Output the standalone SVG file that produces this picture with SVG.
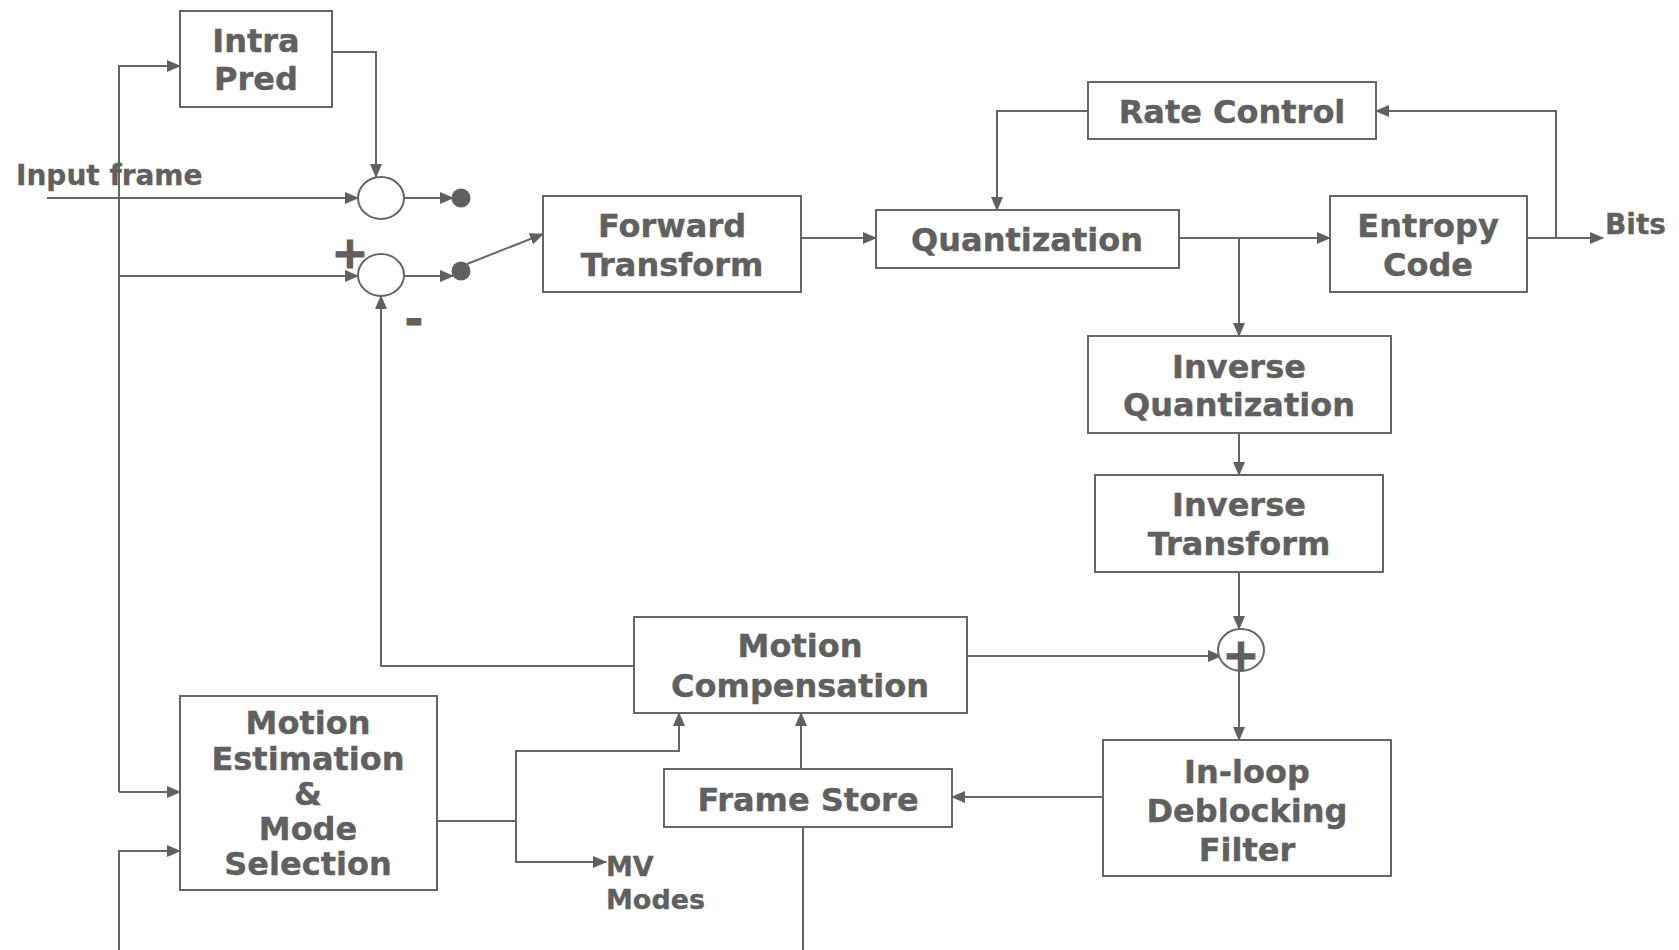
<svg xmlns="http://www.w3.org/2000/svg" width="1679" height="950" viewBox="0 0 1679 950">
<style>
.box{fill:#fff;stroke:#666;stroke-width:2}
.t{font-family:"DejaVu Sans","Verdana",sans-serif;font-weight:bold;font-size:32px;fill:#606060;stroke:#606060;stroke-width:0.4;text-anchor:middle}
.s{font-family:"DejaVu Sans","Verdana",sans-serif;font-weight:bold;font-size:28px;fill:#606060;stroke:#606060;stroke-width:0.3}
.sym{font-family:"DejaVu Sans","Verdana",sans-serif;font-weight:bold;font-size:44px;fill:#606060;stroke:#606060;stroke-width:1.2;text-anchor:middle}
.c{fill:none;stroke:#666;stroke-width:2}
.sum{fill:#fff;stroke:#666;stroke-width:2}
.dot{fill:#606060}
</style>
<defs>
<marker id="a" markerWidth="14" markerHeight="12" refX="13" refY="6" orient="auto" markerUnits="userSpaceOnUse">
<path d="M0,0 L14,6 L0,12 Z" fill="#606060"/>
</marker>
</defs>
<rect width="1679" height="950" fill="#fff"/>
<g id="connectors">
<path class="c" d="M119,792 V66 H180" marker-end="url(#a)"/>
<path class="c" d="M119,792 H180" marker-end="url(#a)"/>
<path class="c" d="M119,276 H358" marker-end="url(#a)"/>
<path class="c" d="M119,950 V851 H180" marker-end="url(#a)"/>
<path class="c" d="M47,198 H358" marker-end="url(#a)"/>
<path class="c" d="M332,52 H376 V177" marker-end="url(#a)"/>
<path class="c" d="M404,198 H453" marker-end="url(#a)"/>
<path class="c" d="M404,276 H453" marker-end="url(#a)"/>
<path class="c" d="M467,264 L543,234" marker-end="url(#a)"/>
<path class="c" d="M801,238 H876" marker-end="url(#a)"/>
<path class="c" d="M1088,111 H997 V210" marker-end="url(#a)"/>
<path class="c" d="M1179,238 H1330" marker-end="url(#a)"/>
<path class="c" d="M1239,238 V336" marker-end="url(#a)"/>
<path class="c" d="M1527,238 H1603" marker-end="url(#a)"/>
<path class="c" d="M1556,238 V111 H1376" marker-end="url(#a)"/>
<path class="c" d="M1239,433 V475" marker-end="url(#a)"/>
<path class="c" d="M1239,572 V629" marker-end="url(#a)"/>
<path class="c" d="M967,656 H1221" marker-end="url(#a)"/>
<path class="c" d="M1239,671 V740" marker-end="url(#a)"/>
<path class="c" d="M1103,797 H952" marker-end="url(#a)"/>
<path class="c" d="M801,769 V713" marker-end="url(#a)"/>
<path class="c" d="M803,827 V950"/>
<path class="c" d="M634,666 H381 V296" marker-end="url(#a)"/>
<path class="c" d="M437,821 H516 V751 H679 V713" marker-end="url(#a)"/>
<path class="c" d="M516,821 V862 H606" marker-end="url(#a)"/>
</g>
<g id="intra-pred">
<rect class="box" x="180" y="11" width="152" height="96"/>
<text class="t" x="256" y="52">Intra</text>
<text class="t" x="256" y="90">Pred</text>
</g>
<g id="input-label"><text class="s" x="16" y="185">Input frame</text></g>
<g id="sum1"><ellipse class="sum" cx="381" cy="198" rx="23" ry="21"/><circle class="dot" cx="461" cy="198" r="9.5"/></g>
<g id="sum2">
<ellipse class="sum" cx="381" cy="275" rx="23" ry="21"/><circle class="dot" cx="461" cy="271" r="9.5"/>
<text class="sym" x="350" y="268">+</text>
<text class="sym" x="414" y="335">-</text>
</g>
<g id="forward-transform">
<rect class="box" x="543" y="196" width="258" height="96"/>
<text class="t" x="672" y="237">Forward</text>
<text class="t" x="672" y="276">Transform</text>
</g>
<g id="quantization">
<rect class="box" x="876" y="210" width="303" height="58"/>
<text class="t" x="1027" y="251">Quantization</text>
</g>
<g id="rate-control">
<rect class="box" x="1088" y="82" width="288" height="57"/>
<text class="t" x="1232" y="123">Rate Control</text>
</g>
<g id="entropy-code">
<rect class="box" x="1330" y="196" width="197" height="96"/>
<text class="t" x="1428" y="237">Entropy</text>
<text class="t" x="1428" y="276">Code</text>
</g>
<g id="bits-label"><text class="s" x="1605" y="234">Bits</text></g>
<g id="inverse-quantization">
<rect class="box" x="1088" y="336" width="303" height="97"/>
<text class="t" x="1239" y="378">Inverse</text>
<text class="t" x="1239" y="416">Quantization</text>
</g>
<g id="inverse-transform">
<rect class="box" x="1095" y="475" width="288" height="97"/>
<text class="t" x="1239" y="516">Inverse</text>
<text class="t" x="1239" y="555">Transform</text>
</g>
<g id="sum3">
<ellipse class="sum" cx="1241" cy="650" rx="23" ry="21"/>
<text class="sym" x="1241" y="670">+</text>
</g>
<g id="motion-compensation">
<rect class="box" x="634" y="617" width="333" height="96"/>
<text class="t" x="800" y="657">Motion</text>
<text class="t" x="800" y="697">Compensation</text>
</g>
<g id="frame-store">
<rect class="box" x="664" y="769" width="288" height="58"/>
<text class="t" x="808" y="811">Frame Store</text>
</g>
<g id="deblocking-filter">
<rect class="box" x="1103" y="740" width="288" height="136"/>
<text class="t" x="1247" y="783">In-loop</text>
<text class="t" x="1247" y="822">Deblocking</text>
<text class="t" x="1247" y="861">Filter</text>
</g>
<g id="motion-estimation">
<rect class="box" x="180" y="696" width="257" height="194"/>
<text class="t" x="308" y="734">Motion</text>
<text class="t" x="308" y="770">Estimation</text>
<text class="t" x="308" y="805">&amp;</text>
<text class="t" x="308" y="840">Mode</text>
<text class="t" x="308" y="875">Selection</text>
</g>
<g id="mv-label">
<text class="s" x="606" y="876" style="font-size:27px">MV</text>
<text class="s" x="606" y="909" style="font-size:27px">Modes</text>
</g>
</svg>
